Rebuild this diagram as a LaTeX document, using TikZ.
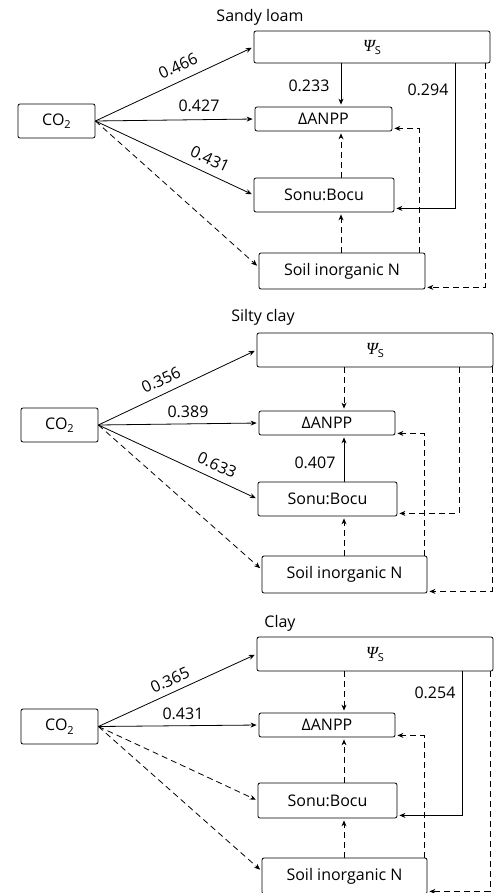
\documentclass[tikz,border=0pt]{standalone}
\usepackage{fontspec}
\setmainfont{Open Sans}
\newfontfamily\psifont{Liberation Serif}
\usetikzlibrary{arrows.meta}
\newcommand{\psis}{{\psifont\itshape\fontsize{17}{18}\selectfont Ψ}\raisebox{-0.35ex}{\fontsize{11}{12}\selectfont S}}
\newcommand{\cotwo}{CO\raisebox{-0.4ex}{\fontsize{11}{12}\selectfont 2}}
\begin{document}
\begin{tikzpicture}[x=1pt,y=-1pt,
  box/.style={draw,rounded corners=2pt,inner sep=0pt,line width=0.8pt,font=\fontsize{16}{18}\selectfont},
  lab/.style={font=\fontsize{16}{18}\selectfont,inner sep=0pt},
  arr/.style={line width=0.8pt,shorten >=2pt,-{Stealth[length=6pt,width=5pt]}},
  dsh/.style={arr,dash pattern=on 6pt off 4pt}]
\useasboundingbox (0,0) rectangle (494,893);
\clip (0,0) rectangle (494,893);

% ---------- Panel 1: Sandy loam ----------
\node[lab] (t1) at (260,17) {Sandy loam};
\node[box,minimum width=236pt,minimum height=32pt] (psi1) at (372,47) {\psis};
\node[box,minimum width=77pt,minimum height=34pt] (co1) at (56.5,121) {\cotwo};
\node[box,minimum width=137pt,minimum height=24pt] (an1) at (323.5,119) {ΔANPP};
\node[box,minimum width=140pt,minimum height=34pt] (so1) at (324,195) {Sonu:Bocu};
\node[box,minimum width=166pt,minimum height=36pt] (sn1) at (342,271) {Soil inorganic N};
\coordinate (a1) at (341,0);
\coordinate (b1) at (419,0);
\coordinate (c1) at (455,0);
\coordinate (d1) at (485,0);
\draw[arr] (co1.east) -- (psi1.west);
\draw[arr] (co1.east) -- (an1.west);
\draw[arr] (co1.east) -- (so1.west);
\draw[dsh] (co1.east) -- ([yshift=4pt]sn1.west);
\draw[arr] (psi1.south -| a1) -- (an1.north -| a1);
\draw[dsh] (so1.north -| a1) -- (an1.south -| a1);
\draw[dsh] (sn1.north -| a1) -- (so1.south -| a1);
\draw[dsh] (sn1.north -| b1) |- ([yshift=3pt]an1.south east);
\draw[arr] (psi1.south -| c1) |- ([yshift=4pt]so1.south east);
\draw[dsh] (psi1.south -| d1) |- ([yshift=2pt]sn1.south east);
\node[lab,rotate=25] (l1a) at (178,66) {0.466};
\node[lab] (l1b) at (199,106) {0.427};
\node[lab,rotate=-25] (l1c) at (210,159) {0.431};
\node[lab] (l1d) at (309,86) {0.233};
\node[lab] (l1e) at (428,90) {0.294};

% ---------- Panel 2: Silty clay ----------
\node[lab] (t2) at (263,317) {Silty clay};
\node[box,minimum width=236pt,minimum height=34pt] (psi2) at (375,350) {\psis};
\node[box,minimum width=77pt,minimum height=34pt] (co2) at (59.5,425) {\cotwo};
\node[box,minimum width=136pt,minimum height=24pt] (an2) at (327,423) {ΔANPP};
\node[box,minimum width=139pt,minimum height=34pt] (so2) at (327.5,499) {Sonu:Bocu};
\node[box,minimum width=165pt,minimum height=37pt] (sn2) at (344.5,574.5) {Soil inorganic N};
\coordinate (a2) at (344,0);
\coordinate (b2) at (424,0);
\coordinate (c2) at (459,0);
\coordinate (d2) at (492,0);
\draw[arr] (co2.east) -- (psi2.west);
\draw[arr] (co2.east) -- (an2.west);
\draw[arr] (co2.east) -- (so2.west);
\draw[dsh] (co2.east) -- ([yshift=5pt]sn2.west);
\draw[dsh] (psi2.south -| a2) -- (an2.north -| a2);
\draw[arr] (so2.north -| a2) -- (an2.south -| a2);
\draw[dsh] (sn2.north -| a2) -- (so2.south -| a2);
\draw[dsh] (sn2.north -| b2) |- ([yshift=2pt]an2.south east);
\draw[dsh] (psi2.south -| c2) |- ([yshift=3pt]so2.south east);
\draw[dsh] (psi2.south -| d2) |- ([yshift=2pt]sn2.south east);
\node[lab,rotate=25] (l2a) at (161,380) {0.356};
\node[lab] (l2b) at (188,412) {0.389};
\node[lab,rotate=-25] (l2c) at (217,465) {0.633};
\node[lab] (l2d) at (315,463) {0.407};

% ---------- Panel 3: Clay ----------
\node[lab] (t3) at (280,623) {Clay};
\node[box,minimum width=236pt,minimum height=34pt] (psi3) at (375,654) {\psis};
\node[box,minimum width=77pt,minimum height=35pt] (co3) at (59.5,726.5) {\cotwo};
\node[box,minimum width=136pt,minimum height=24pt] (an3) at (327,725) {ΔANPP};
\node[box,minimum width=139pt,minimum height=35pt] (so3) at (327.5,800.5) {Sonu:Bocu};
\node[box,minimum width=165pt,minimum height=36pt] (sn3) at (344.5,876) {Soil inorganic N};
\coordinate (a3) at (344,0);
\coordinate (b3) at (424,0);
\coordinate (c3) at (462,0);
\coordinate (d3) at (490,0);
\draw[arr] (co3.east) -- (psi3.west);
\draw[arr] (co3.east) -- (an3.west);
\draw[dsh] (co3.east) -- (so3.west);
\draw[dsh] (co3.east) -- ([yshift=5pt]sn3.west);
\draw[dsh] (psi3.south -| a3) -- (an3.north -| a3);
\draw[dsh] (so3.north -| a3) -- (an3.south -| a3);
\draw[dsh] (sn3.north -| a3) -- (so3.south -| a3);
\draw[dsh] (sn3.north -| b3) |- ([yshift=2pt]an3.south east);
\draw[arr] (psi3.south -| c3) |- ([yshift=3pt]so3.south east);
\draw[dsh] (psi3.south -| d3) |- ([yshift=3pt]sn3.south east);
\node[lab,rotate=25] (l3a) at (170,680) {0.365};
\node[lab] (l3b) at (183,714) {0.431};
\node[lab] (l3c) at (435,693) {0.254};
\end{tikzpicture}
\end{document}
